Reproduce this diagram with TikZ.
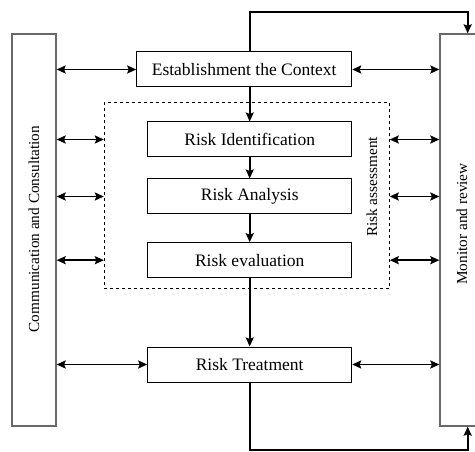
\documentclass[tikz,border=0pt]{standalone}
\usepackage{fontspec}
\setmainfont{Liberation Serif}
\usetikzlibrary{positioning,arrows.meta}
\definecolor{SideGray}{RGB}{105,105,105}
\tikzset{
  flow/.style={-{Stealth[length=9pt,width=8pt,inset=1.5pt]},line width=1.9pt},
  bothflow/.style={{Stealth[length=9pt,width=8pt,inset=1.5pt]}-{Stealth[length=9pt,width=8pt,inset=1.5pt]},line width=1.9pt},
  stepbox/.style={draw,line width=1pt,minimum width=204pt,minimum height=35pt,
    font=\fontsize{17.5}{20}\selectfont},
  sidebox/.style={draw=SideGray,line width=1.3pt,minimum width=44pt,minimum height=392pt},
  sidetext/.style={rotate=90,font=\fontsize{15.3}{18}\selectfont},
  groupbox/.style={draw,dashed,line width=0.9pt,minimum width=285pt,minimum height=186.3pt}
}

\begin{document}
\begin{tikzpicture}[x=1pt,y=-1pt]
  \useasboundingbox (0,0) rectangle (475,452);
  % side columns
  \node[sidebox] (comm) at (34,230) {};
  \node[sidetext] (commtext) at (34,229) {Communication and Consultation};
  \node[sidebox] (mon) at (462,230) {};
  \node[sidetext] (montext) at (462,224) {Monitor and review};
  % main chain
  \node[stepbox,minimum width=215pt] (est) at (244.2,69.5) {Establishment the Context};
  \node[groupbox] (assess) at (246.8,195.8) {};
  \node[sidetext] (assesstext) at (372,187) {Risk assessment};
  \node[stepbox] (ident) at (249.7,139.5) {Risk Identification};
  \node[stepbox,below=21pt of ident] (anal) {Risk Analysis};
  \node[stepbox,below=27.7pt of anal] (eval) {Risk evaluation};
  \node[stepbox,below=68.3pt of eval] (treat) {Risk Treatment};
  \coordinate (topy) at (0,11.7);
  \coordinate (boty) at (0,450.3);
  % vertical flow
  \draw[flow] (est.south -| ident) -- (ident.north);
  \draw[flow] (ident) -- (anal);
  \draw[flow] (anal) -- (eval);
  \draw[flow] (eval) -- (treat);
  \draw[flow] (est.north -| ident) -- (ident.north |- topy) -| ([xshift=5.7pt]mon.north);
  \draw[flow] (treat.south) -- (treat.south |- boty) -| ([xshift=5.7pt]mon.south);
  % links to the side columns
  \draw[bothflow] (comm.east |- est) -- (est.west);
  \draw[bothflow] (est.east) -- (mon.west |- est);
  \foreach \n in {ident,anal,eval} {
    \draw[bothflow] (comm.east |- \n) -- (assess.west |- \n);
    \draw[bothflow] (assess.east |- \n) -- (mon.west |- \n);
  }
  \draw[bothflow] (comm.east |- treat) -- (treat.west);
  \draw[bothflow] (treat.east) -- (mon.west |- treat);
\end{tikzpicture}
\end{document}
